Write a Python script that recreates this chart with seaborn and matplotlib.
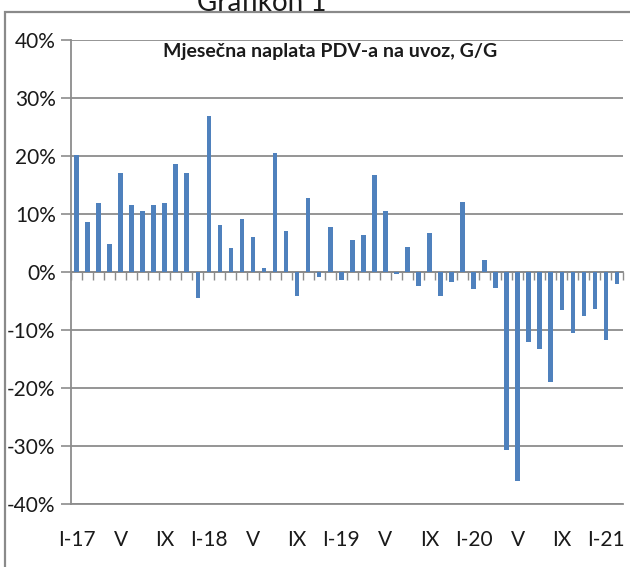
import matplotlib

matplotlib.use("Agg")

import numpy as np
import pandas as pd
import seaborn as sns
import matplotlib.pyplot as plt
from matplotlib.patches import Rectangle


# monthly categories, I-2017 .. II-2021
months = [str(p) for p in pd.period_range("2017-01", "2021-02", freq="M")]

# VAT on imports, year-on-year change (%)
vat_yoy = [
    20.2, 8.7, 11.9, 4.8, 17.1, 11.5, 10.6, 11.5, 11.9, 18.7, 17.1, -4.5,
    26.9, 8.1, 4.2, 9.2, 6.0, 0.7, 20.5, 7.0, -4.1, 12.7, -0.9, 7.7,
    -1.4, 5.5, 6.3, 16.7, 10.5, -0.3, 4.3, -2.4, 6.8, -4.2, -1.8, 12.0,
    -3.0, 2.0, -2.8, -30.7, -36.0, -12.1, -13.3, -19.0, -6.5, -10.5, -7.6, -6.4,
    -11.7, -2.0,
]

tick_labels = ["I-17", "V", "IX", "I-18", "V", "IX", "I-19", "V", "IX",
               "I-20", "V", "IX", "I-21"]
y_ticks = [-40, -30, -20, -10, 0, 10, 20, 30, 40]

BAR_COLOR = "#4F81BD"
GRID_COLOR = "#8C8C8C"
TEXT_COLOR = "#1a1a1a"

sns.set_style("white")
plt.rcParams["font.family"] = ["Lato", "DejaVu Sans"]

df = pd.DataFrame({"month": months, "value": vat_yoy})

fig = plt.figure(figsize=(6.3, 5.67), dpi=100)
ax = fig.add_axes([71 / 630, 63 / 567, 551.5 / 630, 464 / 567])

sns.barplot(data=df, x="month", y="value", color=BAR_COLOR, saturation=1,
            width=0.42, linewidth=0, ax=ax, zorder=3)

ax.set_xlim(-0.5, len(months) - 0.5)
ax.set_ylim(y_ticks[0], y_ticks[-1])
ax.set_yticks(y_ticks)
ax.set_yticklabels([f"{t}%" for t in y_ticks])
ax.yaxis.grid(True, color=GRID_COLOR, linewidth=1.3)
ax.set_axisbelow(True)

ax.set_xticks(np.arange(0, len(months), 4))
ax.set_xticklabels(tick_labels)
ax.set_xlabel("")
ax.set_ylabel("")
ax.tick_params(axis="x", length=0, pad=19, labelsize=15, colors=TEXT_COLOR)
ax.tick_params(axis="y", length=7, width=1.2, color=GRID_COLOR, pad=4,
               labelsize=15, labelcolor=TEXT_COLOR, left=True)

for side in ["top", "right"]:
    ax.spines[side].set_visible(False)
for side in ["left", "bottom"]:
    ax.spines[side].set_color(GRID_COLOR)
    ax.spines[side].set_linewidth(1.3)

# category axis crossing at zero, with boundary tick marks pointing down
zero_loc = (0 - y_ticks[0]) / (y_ticks[-1] - y_ticks[0])
sec = ax.secondary_xaxis(zero_loc)
sec.set_xticks(np.arange(-0.5, len(months), 1))
sec.set_xticklabels([])
sec.tick_params(length=6, width=1.0, color=GRID_COLOR, direction="in")
for spine in sec.spines.values():
    spine.set_color(GRID_COLOR)
    spine.set_linewidth(1.3)

fig.text(330 / 630, 1 - 52 / 567, "Mjesečna naplata PDV-a na uvoz, G/G",
         ha="center", va="center", fontsize=14, fontweight="bold",
         color=TEXT_COLOR)

fig.text(262 / 630, 1 - 11 / 567, "Grafikon 1", ha="center", va="baseline",
         fontsize=20, color=TEXT_COLOR)

fig.patches.append(Rectangle((5 / 630, -0.1), 1.2, 1 - 12 / 567 + 0.1,
                             transform=fig.transFigure, fill=False,
                             edgecolor="#8A8A8A", linewidth=1.6))

fig.savefig("out.png", dpi=100)
plt.close(fig)
